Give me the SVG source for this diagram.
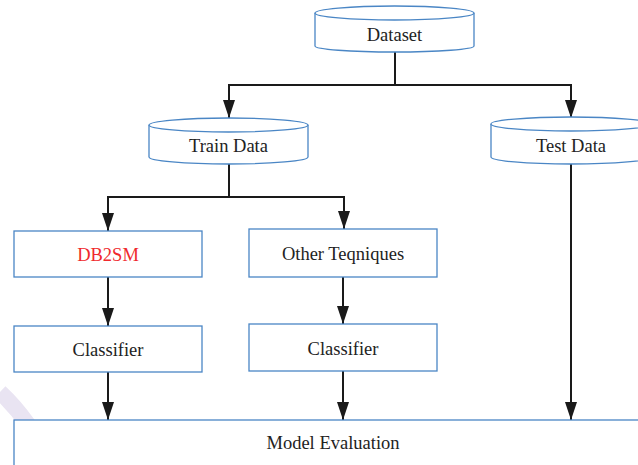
<svg xmlns="http://www.w3.org/2000/svg" width="638" height="465" viewBox="0 0 638 465">
<style>
.shape{fill:#fff;stroke:#4a86c5;stroke-width:1.3}
.lbl{font-size:18.5px;fill:#222;text-anchor:middle}
.red{fill:#f0282d}
.conn{fill:none;stroke:#1a1a1a;stroke-width:2}
</style>
<defs>
<marker id="arr" markerUnits="userSpaceOnUse" markerWidth="18" markerHeight="12" refX="18" refY="6" orient="auto" viewBox="0 0 18 12">
<path d="M0,0 L18,6 L0,12 Z" fill="#1a1a1a"/>
</marker>
</defs>
<rect width="638" height="465" fill="#fff"/>
<path d="M0,392 Q30,420 52,465" fill="none" stroke="#e9e4f2" stroke-width="16"/>

<g id="connectors">
<path class="conn" d="M395,52 V85 M229,85 H571"/>
<path class="conn" d="M229,84 V118" marker-end="url(#arr)"/>
<path class="conn" d="M571,84 V118" marker-end="url(#arr)"/>
<path class="conn" d="M229,164 V197 M108,197 H344"/>
<path class="conn" d="M108,196 V231" marker-end="url(#arr)"/>
<path class="conn" d="M344,196 V229" marker-end="url(#arr)"/>
<path class="conn" d="M108,277 V326" marker-end="url(#arr)"/>
<path class="conn" d="M343,277 V324" marker-end="url(#arr)"/>
<path class="conn" d="M108,372 V420" marker-end="url(#arr)"/>
<path class="conn" d="M343,371 V420" marker-end="url(#arr)"/>
<path class="conn" d="M571,164 V420" marker-end="url(#arr)"/>
</g>

<g font-family="'Liberation Serif', 'Times New Roman', Tinos, 'DejaVu Serif', serif">
<g id="dataset">
<path class="shape" d="M315,13 V46 A79.5,6 0 0 0 474,46 V13"/>
<ellipse class="shape" cx="394.5" cy="13" rx="79.5" ry="7"/>
<text class="lbl" x="394.5" y="41">Dataset</text>
</g>

<g id="train-data">
<path class="shape" d="M149,125 V157 A79.5,7 0 0 0 308,157 V125"/>
<ellipse class="shape" cx="228.5" cy="125" rx="79.5" ry="7"/>
<text class="lbl" x="228.5" y="152">Train Data</text>
</g>

<g id="test-data">
<path class="shape" d="M491,124 V157 A80,7 0 0 0 651,157 V124"/>
<ellipse class="shape" cx="571" cy="124" rx="80" ry="7"/>
<text class="lbl" x="571" y="152">Test Data</text>
</g>

<g id="db2sm">
<rect class="shape" x="14" y="231" width="188" height="46"/>
<text class="lbl red" x="108" y="260.5">DB2SM</text>
</g>

<g id="other-teqniques">
<rect class="shape" x="249" y="229" width="188" height="48"/>
<text class="lbl" x="343" y="259.5">Other Teqniques</text>
</g>

<g id="classifier-1">
<rect class="shape" x="14" y="326" width="188" height="46"/>
<text class="lbl" x="108" y="355.5">Classifier</text>
</g>

<g id="classifier-2">
<rect class="shape" x="249" y="324" width="188" height="47"/>
<text class="lbl" x="343" y="354.5">Classifier</text>
</g>

<g id="model-evaluation">
<rect class="shape" x="14" y="420" width="640" height="60"/>
<text class="lbl" x="333" y="449">Model Evaluation</text>
</g>
</g>
</svg>
